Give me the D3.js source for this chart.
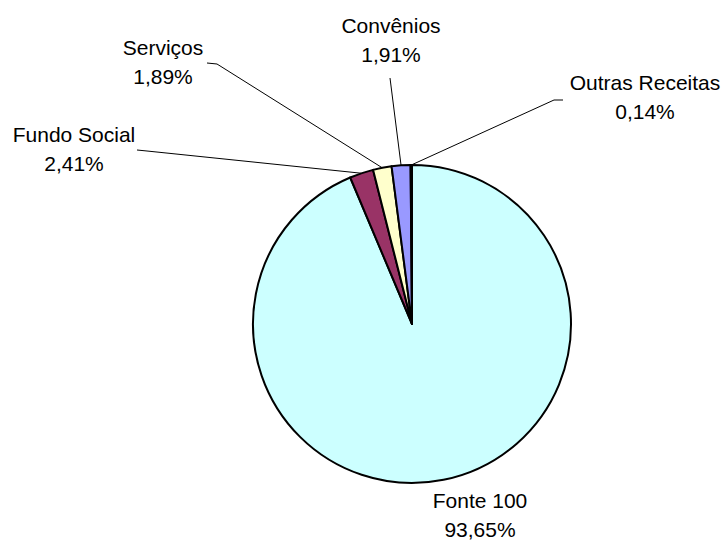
<!DOCTYPE html>
<html>
<head>
<meta charset="utf-8">
<script src="https://cdn.jsdelivr.net/npm/d3@7"></script>
<style>
  body { margin: 0; background: #fff; }
  text { font-family: "Liberation Sans", Arial, sans-serif; font-size: 21px; fill: #000; }
</style>
</head>
<body>
<svg id="chart" width="723" height="540"></svg>
<script>
// data, clockwise from 12 o'clock
var categories = ['Fonte 100', 'Fundo Social', 'Serviços', 'Convênios', 'Outras Receitas'];
var values = [93.65, 2.41, 1.89, 1.91, 0.14];
var labels = ['93,65%', '2,41%', '1,89%', '1,91%', '0,14%'];
var colors = ['#ccffff', '#993366', '#ffffcc', '#9999ff', '#660066'];

// label layout: text centre x, first baseline y, elbow of the leader line (null = no line)
var labelX = [480, 74, 163, 391, 645];
var labelY = [508, 142, 55, 33, 90];
var elbows = [null, [[137, 150], [147, 151]], [[207, 63], [217, 64]], [[390, 78]], [[563, 100], [554, 100]]];

var svg = d3.select('#chart');
var cx = 412, cy = 324, radius = 159;

var pie = d3.pie().sort(null).value(function(d) { return d; });
var arc = d3.arc().innerRadius(0).outerRadius(radius);
var arcs = pie(values);

var g = svg.append('g').attr('transform', 'translate(' + cx + ',' + cy + ')');

g.selectAll('path')
  .data(arcs)
  .enter().append('path')
  .attr('d', arc)
  .attr('fill', function(d, i) { return colors[i]; })
  .attr('stroke', '#000')
  .attr('stroke-width', 2)
  .attr('stroke-linejoin', 'round');

// leader lines from label to the middle of each slice's outer edge
arcs.forEach(function(d, i) {
  if (!elbows[i]) return;
  var mid = (d.startAngle + d.endAngle) / 2;
  var end = [cx + radius * Math.sin(mid), cy - radius * Math.cos(mid)];
  var pts = elbows[i].concat([end]);
  svg.append('path')
    .attr('d', d3.line()(pts))
    .attr('fill', 'none')
    .attr('stroke', '#000')
    .attr('stroke-width', 1);
});

var lab = svg.selectAll('text.lab')
  .data(categories)
  .enter().append('text')
  .attr('class', 'lab')
  .attr('text-anchor', 'middle')
  .attr('x', function(d, i) { return labelX[i]; })
  .attr('y', function(d, i) { return labelY[i]; });
lab.append('tspan').text(function(d) { return d; });
lab.append('tspan')
  .attr('x', function(d, i) { return labelX[i]; })
  .attr('dy', 29)
  .text(function(d, i) { return labels[i]; });
</script>
</body>
</html>
